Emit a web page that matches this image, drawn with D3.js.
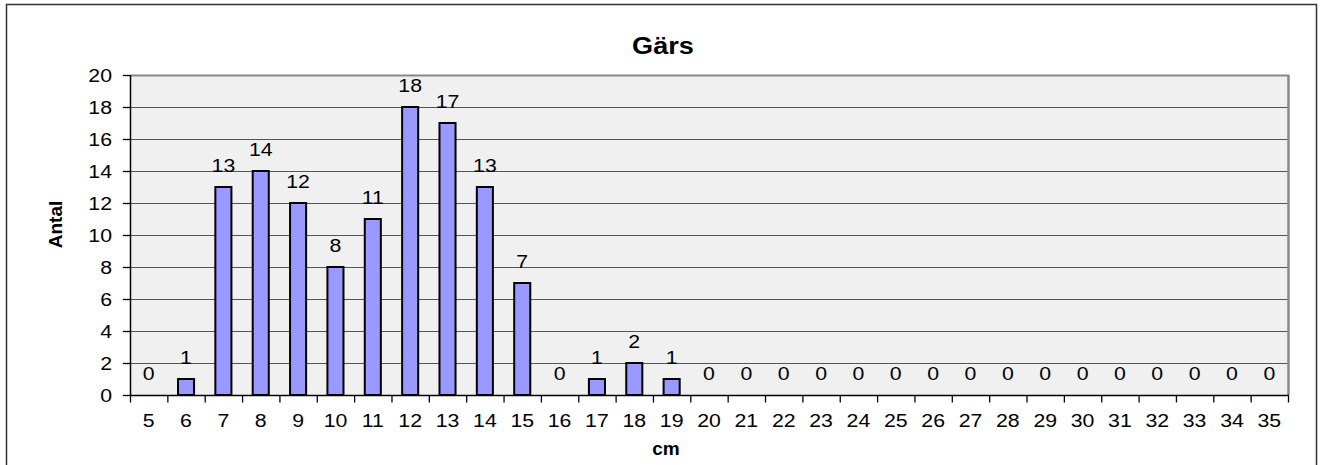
<!DOCTYPE html>
<html>
<head>
<meta charset="utf-8">
<script src="https://cdn.jsdelivr.net/npm/d3@7"></script>
<style>
  html, body { margin: 0; padding: 0; background: #fff; }
  svg { display: block; }
  text { font-family: "Liberation Sans", Arial, sans-serif; fill: #000; }
</style>
</head>
<body>
<svg id="chart" width="1322" height="465"></svg>
<script>
// Length classes (cm) and number of fish counted in each
const lengths = [5, 6, 7, 8, 9, 10, 11, 12, 13, 14, 15, 16, 17, 18, 19, 20,
                 21, 22, 23, 24, 25, 26, 27, 28, 29, 30, 31, 32, 33, 34, 35];
const counts  = [0, 1, 13, 14, 12, 8, 11, 18, 17, 13, 7, 0, 1, 2, 1, 0,
                 0, 0, 0, 0, 0, 0, 0, 0, 0, 0, 0, 0, 0, 0, 0];
const yTicks  = [0, 2, 4, 6, 8, 10, 12, 14, 16, 18, 20];
const chartTitle = "Gärs";
const xTitle = "cm";
const yTitle = "Antal";

const svg = d3.select("#chart");
const WIDEN = 1.12;   // slightly wide glyphs for the axis and value labels

// outer chart frame
svg.append("rect")
  .attr("x", 6.5).attr("y", 4.5)
  .attr("width", 1310).attr("height", 480)
  .attr("fill", "#fff").attr("stroke", "#333").attr("stroke-width", 1.5);

const plot = { left: 130, right: 1288, top: 75, bottom: 395 };

const x = d3.scaleBand()
  .domain(lengths)
  .range([plot.left, plot.right])
  .paddingInner(0.57)
  .paddingOuter(0.285);

const y = d3.scaleLinear()
  .domain([0, 20])
  .range([plot.bottom, plot.top]);

// plot background
svg.append("rect")
  .attr("x", plot.left).attr("y", plot.top)
  .attr("width", plot.right - plot.left)
  .attr("height", plot.bottom - plot.top)
  .attr("fill", "#f0f0f0");

// horizontal gridlines
svg.append("g")
  .selectAll("line")
  .data(yTicks.filter(t => t > 0 && t < 20))
  .join("line")
  .attr("x1", plot.left).attr("x2", plot.right)
  .attr("y1", d => y(d) + 0.5).attr("y2", d => y(d) + 0.5)
  .attr("stroke", "#555").attr("stroke-width", 1);

// top and right edges of the plot area
svg.append("line")
  .attr("x1", plot.left).attr("x2", plot.right + 1)
  .attr("y1", plot.top + 0.5).attr("y2", plot.top + 0.5)
  .attr("stroke", "#888").attr("stroke-width", 2);
svg.append("line")
  .attr("x1", plot.right + 0.5).attr("x2", plot.right + 0.5)
  .attr("y1", plot.top).attr("y2", plot.bottom)
  .attr("stroke", "#888").attr("stroke-width", 2.5);

// bars
svg.append("g")
  .selectAll("rect")
  .data(lengths.map((l, i) => ({ l, v: counts[i] })).filter(d => d.v > 0))
  .join("rect")
  .attr("x", d => x(d.l))
  .attr("y", d => y(d.v))
  .attr("width", x.bandwidth())
  .attr("height", d => y(0) - y(d.v))
  .attr("fill", "#9999ff")
  .attr("stroke", "#000")
  .attr("stroke-width", 2);

// value labels
svg.append("g")
  .selectAll("text")
  .data(lengths.map((l, i) => ({ l, v: counts[i] })))
  .join("text")
  .attr("transform", d => `translate(${x(d.l) + x.bandwidth() / 2},${y(d.v) - 15.5}) scale(${WIDEN},1)`)
  .attr("text-anchor", "middle")
  .attr("font-size", 19)
  .text(d => d.v);

// y axis line, ticks and labels
const gy = svg.append("g");
gy.append("line")
  .attr("x1", plot.left + 0.5).attr("x2", plot.left + 0.5)
  .attr("y1", plot.top).attr("y2", plot.bottom + 1)
  .attr("stroke", "#000").attr("stroke-width", 1.5);
gy.selectAll(".ytick")
  .data(yTicks)
  .join("line")
  .attr("class", "ytick")
  .attr("x1", plot.left - 7).attr("x2", plot.left)
  .attr("y1", d => y(d) + 0.5).attr("y2", d => y(d) + 0.5)
  .attr("stroke", "#000").attr("stroke-width", 1.3);
gy.selectAll(".ylabel")
  .data(yTicks)
  .join("text")
  .attr("class", "ylabel")
  .attr("transform", d => `translate(112,${y(d) + 7}) scale(${WIDEN},1)`)
  .attr("text-anchor", "end")
  .attr("font-size", 19)
  .text(d => d);

// x axis: ticks at category boundaries, labels at category centres
const gx = svg.append("g").attr("transform", `translate(0,${plot.bottom + 0.5})`);
gx.append("line")
  .attr("x1", plot.left).attr("x2", plot.right + 1)
  .attr("stroke", "#000").attr("stroke-width", 1.5);
const step = x.step();
gx.selectAll(".xtick")
  .data(d3.range(lengths.length + 1))
  .join("line")
  .attr("class", "xtick")
  .attr("x1", i => plot.left + i * step + 0.5)
  .attr("x2", i => plot.left + i * step + 0.5)
  .attr("y1", 0).attr("y2", 7)
  .attr("stroke", "#000").attr("stroke-width", 1.3);
gx.selectAll(".xlabel")
  .data(lengths)
  .join("text")
  .attr("class", "xlabel")
  .attr("transform", d => `translate(${x(d) + x.bandwidth() / 2},31.5) scale(${WIDEN},1)`)
  .attr("text-anchor", "middle")
  .attr("font-size", 19)
  .text(d => d);

// titles
svg.append("text")
  .attr("transform", "translate(663,53.5) scale(1.18,1)")
  .attr("text-anchor", "middle")
  .attr("font-size", 23).attr("font-weight", "bold")
  .text(chartTitle);

svg.append("text")
  .attr("x", 666).attr("y", 454.5)
  .attr("text-anchor", "middle")
  .attr("font-size", 19).attr("font-weight", "bold")
  .text(xTitle);

svg.append("text")
  .attr("transform", "translate(61.5,224.5) rotate(-90)")
  .attr("text-anchor", "middle")
  .attr("font-size", 19).attr("font-weight", "bold")
  .text(yTitle);
</script>
</body>
</html>
